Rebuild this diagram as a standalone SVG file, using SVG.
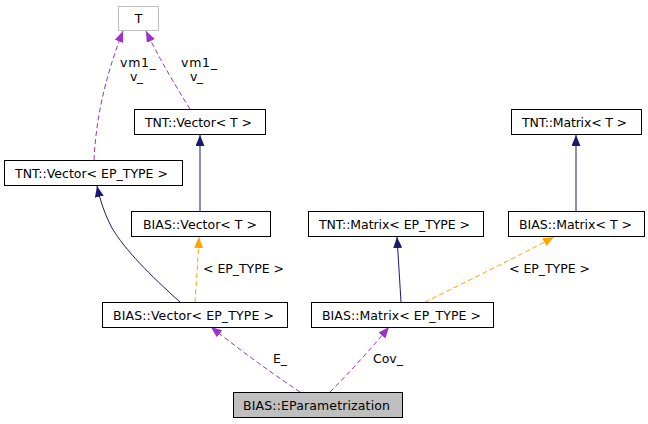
<svg xmlns="http://www.w3.org/2000/svg" width="648" height="424" viewBox="0 0 648 424">
<style>
.n rect{fill:#fff;stroke:#000;stroke-width:1}
text{font-family:"DejaVu Sans",sans-serif;font-size:12.5px;fill:#000}
.n text{text-anchor:middle}
.e{fill:none;stroke-width:1}
.inh{stroke:#191970}
.use{stroke:#9a32cd;stroke-dasharray:5,3}
.tpl{stroke:#ffa500;stroke-dasharray:5,3}
</style>
<defs>
<marker id="aN" viewBox="0 0 11 9" refX="11" refY="4.5" markerWidth="11" markerHeight="9" markerUnits="userSpaceOnUse" orient="auto"><path d="M0,0L11,4.5L0,9z" fill="#191970"/></marker>
<marker id="aP" viewBox="0 0 11 9" refX="11" refY="4.5" markerWidth="11" markerHeight="9" markerUnits="userSpaceOnUse" orient="auto"><path d="M0,0L11,4.5L0,9z" fill="#9a32cd"/></marker>
<marker id="aO" viewBox="0 0 11 9" refX="11" refY="4.5" markerWidth="11" markerHeight="9" markerUnits="userSpaceOnUse" orient="auto"><path d="M0,0L11,4.5L0,9z" fill="#ffa500"/></marker>
</defs>
<rect width="648" height="424" fill="#fff"/>
<g id="edges">
<path class="e use" d="M94,160C96,120 104,80 123,31" marker-end="url(#aP)"/>
<text x="120" y="67" textLength="36" lengthAdjust="spacing">vm1_</text>
<text x="130" y="81" textLength="13" lengthAdjust="spacing">v_</text>
<path class="e use" d="M190,109C175,85 160,60 146,31" marker-end="url(#aP)"/>
<text x="181" y="67" textLength="36" lengthAdjust="spacing">vm1_</text>
<text x="190" y="81" textLength="13" lengthAdjust="spacing">v_</text>
<path class="e inh" d="M200,211L200,135" marker-end="url(#aN)"/>
<path class="e inh" d="M180,302C150,275 125,250 112,228C105,215 100,200 97,186" marker-end="url(#aN)"/>
<path class="e tpl" d="M195,302C196,285 198,262 199,237" marker-end="url(#aO)"/>
<text x="203" y="273" textLength="81" lengthAdjust="spacing">&lt; EP_TYPE &gt;</text>
<path class="e inh" d="M401,302L397,237" marker-end="url(#aN)"/>
<path class="e inh" d="M576,211L576,135" marker-end="url(#aN)"/>
<path class="e tpl" d="M425,302C470,280 520,255 554,237" marker-end="url(#aO)"/>
<text x="509" y="273" textLength="81" lengthAdjust="spacing">&lt; EP_TYPE &gt;</text>
<path class="e use" d="M300,392C270,372 240,350 211,327" marker-end="url(#aP)"/>
<text x="273" y="363" textLength="14" lengthAdjust="spacing">E_</text>
<path class="e use" d="M330,392C350,372 370,350 389,327" marker-end="url(#aP)"/>
<text x="373" y="363" textLength="30" lengthAdjust="spacing">Cov_</text>
</g>
<g id="T" class="n"><rect x="118.5" y="6.5" width="40" height="24" style="stroke:#bfbfbf"/><text x="138.5" y="23">T</text></g>
<g id="TNTVectorT" class="n"><rect x="134.5" y="109.5" width="131" height="25"/><text x="198.5" y="126.5" textLength="107" lengthAdjust="spacing">TNT::Vector&lt; T &gt;</text></g>
<g id="TNTVectorEP" class="n"><rect x="4.5" y="160.5" width="178" height="25"/><text x="91.5" y="177.5" textLength="153" lengthAdjust="spacing">TNT::Vector&lt; EP_TYPE &gt;</text></g>
<g id="TNTMatrixT" class="n"><rect x="511.5" y="109.5" width="130" height="25"/><text x="574.5" y="126.5" textLength="105" lengthAdjust="spacing">TNT::Matrix&lt; T &gt;</text></g>
<g id="TNTMatrixEP" class="n"><rect x="308.5" y="211.5" width="175" height="25"/><text x="394.5" y="228.5" textLength="151" lengthAdjust="spacing">TNT::Matrix&lt; EP_TYPE &gt;</text></g>
<g id="BIASVectorT" class="n"><rect x="131.5" y="211.5" width="139" height="25"/><text x="200" y="228.5" textLength="114" lengthAdjust="spacing">BIAS::Vector&lt; T &gt;</text></g>
<g id="BIASMatrixT" class="n"><rect x="508.5" y="211.5" width="136" height="25"/><text x="575.5" y="228.5" textLength="113" lengthAdjust="spacing">BIAS::Matrix&lt; T &gt;</text></g>
<g id="BIASVectorEP" class="n"><rect x="102.5" y="302.5" width="185" height="25"/><text x="193.5" y="319.5" textLength="161" lengthAdjust="spacing">BIAS::Vector&lt; EP_TYPE &gt;</text></g>
<g id="BIASMatrixEP" class="n"><rect x="311.5" y="302.5" width="182" height="25"/><text x="401.5" y="319.5" textLength="159" lengthAdjust="spacing">BIAS::Matrix&lt; EP_TYPE &gt;</text></g>
<g id="EParam" class="n"><rect x="233.5" y="392.5" width="169" height="25" style="fill:#bfbfbf"/><text x="316.5" y="409.5" textLength="147" lengthAdjust="spacing">BIAS::EParametrization</text></g>
</svg>
